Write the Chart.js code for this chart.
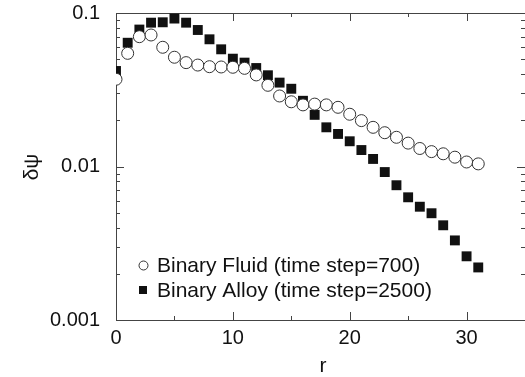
<!DOCTYPE html>
<html>
<head>
<meta charset="utf-8">
<script src="https://cdn.jsdelivr.net/npm/chart.js@4.4.1/dist/chart.umd.min.js"></script>
<style>
html,body{margin:0;padding:0;background:#fff;overflow:hidden;}
#wrap{width:532px;height:377px;}
</style>
</head>
<body>
<div id="wrap"><canvas id="c" width="532" height="377"></canvas></div>
<script>
const rValues = [0,1,2,3,4,5,6,7,8,9,10,11,12,13,14,15,16,17,18,19,20,21,22,23,24,25,26,27,28,29,30,31];
const fluidValues = [0.037,0.0546,0.0701,0.0719,0.0598,0.0515,0.0475,0.0458,0.0447,0.0445,0.0443,0.0436,0.0395,0.0338,0.0288,0.0264,0.0252,0.0255,0.0252,0.0243,0.0219,0.0199,0.018,0.0166,0.0155,0.0142,0.0131,0.0125,0.0121,0.0115,0.0107,0.0104];
const alloyValues = [0.0419,0.064,0.078,0.0865,0.087,0.092,0.0865,0.0775,0.0674,0.058,0.0504,0.0475,0.0438,0.0393,0.0352,0.0321,0.0268,0.0217,0.018,0.0163,0.0146,0.0128,0.0112,0.0092,0.00755,0.0063,0.00547,0.00496,0.00414,0.0033,0.0026,0.0022];
const seriesLabels = ['Binary Fluid (time step=700)','Binary Alloy (time step=2500)'];
const xTickLabels = [0,10,20,30];
const yTickLabels = [0.001,0.01,0.1];
const xTitle = 'r';
const yTitle = 'δψ';

const FONT = "'Liberation Sans', Arial, Helvetica, sans-serif";
const INK = '#111';

const framePlugin = {
  id: 'frame',
  beforeDatasetsDraw(chart) {
    const ctx = chart.ctx, a = chart.chartArea;
    const xs = chart.scales.x, ys = chart.scales.y;
    ctx.save();
    ctx.strokeStyle = '#444';
    ctx.lineWidth = 1;
    ctx.strokeRect(Math.round(a.left) + 0.5, Math.round(a.top) + 0.5, Math.round(a.right - a.left), Math.round(a.bottom - a.top));
    ctx.beginPath();
    for (let v = 0; v <= xs.max; v += 5) {
      const px = Math.round(xs.getPixelForValue(v)) + 0.5;
      const len = (v % 10 === 0) ? 8 : 4;
      ctx.moveTo(px, a.bottom); ctx.lineTo(px, a.bottom - len);
      ctx.moveTo(px, a.top); ctx.lineTo(px, a.top + len);
    }
    for (let e = -3; e <= -1; e++) {
      for (let m = 1; m <= 9; m++) {
        const v = m * Math.pow(10, e);
        if (v < ys.min * 0.999 || v > ys.max * 1.001) continue;
        const py = Math.round(ys.getPixelForValue(v)) + 0.5;
        const len = (m === 1) ? 8 : 4;
        ctx.moveTo(a.left, py); ctx.lineTo(a.left + len, py);
        ctx.moveTo(a.right, py); ctx.lineTo(a.right - len, py);
      }
    }
    ctx.stroke();
    ctx.restore();
  },
  afterDraw(chart) {
    const ctx = chart.ctx;
    ctx.save();
    ctx.fillStyle = INK;
    ctx.font = '21px ' + FONT;
    ctx.textAlign = 'center';
    ctx.textBaseline = 'middle';
    ctx.fillText(xTitle, 323, 366);
    ctx.translate(32, 167);
    ctx.rotate(-Math.PI / 2);
    ctx.font = '21px ' + FONT;
    ctx.fillText(yTitle, 0, 0);
    ctx.restore();
    ctx.save();
    ctx.font = '21px ' + FONT;
    ctx.textAlign = 'left';
    ctx.textBaseline = 'middle';
    ctx.fillStyle = INK;
    ctx.strokeStyle = '#333';
    ctx.lineWidth = 1;
    ctx.beginPath();
    ctx.arc(143.5, 265.5, 4.5, 0, Math.PI * 2);
    ctx.stroke();
    ctx.fillRect(139, 286, 8, 8);
    ctx.fillText(chart.data.datasets[0].label, 157, 266);
    ctx.fillText(chart.data.datasets[1].label, 157, 291);
    ctx.restore();
  }
};

new Chart(document.getElementById('c'), {
  type: 'line',
  data: {
    labels: rValues,
    datasets: [
      {
        label: seriesLabels[0],
        data: rValues.map((r, i) => ({x: r, y: fluidValues[i]})),
        showLine: false,
        pointStyle: 'circle',
        pointRadius: 6,
        pointBorderWidth: 1,
        pointBorderColor: '#333',
        pointBackgroundColor: '#fff'
      },
      {
        label: seriesLabels[1],
        data: rValues.map((r, i) => ({x: r, y: alloyValues[i]})),
        showLine: false,
        pointStyle: 'rect',
        pointRadius: 7,
        pointBorderWidth: 0,
        pointBorderColor: '#111',
        pointBackgroundColor: '#111'
      }
    ]
  },
  options: {
    responsive: false,
    animation: false,
    layout: {padding: {left: 0, top: 13, right: 0, bottom: 0}},
    plugins: {legend: {display: false}, tooltip: {enabled: false}},
    scales: {
      x: {
        type: 'linear',
        min: 0, max: 35,
        grid: {display: false, drawTicks: false},
        border: {display: false},
        afterFit: s => { s.height = 57; s.paddingLeft = 0; s.paddingRight = 0; },
        afterBuildTicks: s => { s.ticks = xTickLabels.map(v => ({value: v})); },
        ticks: {
          autoSkip: false, maxRotation: 0, padding: 6,
          color: INK, font: {family: FONT, size: 20},
          callback: v => String(v)
        }
      },
      y: {
        type: 'logarithmic',
        min: 0.001, max: 0.1,
        grid: {display: false, drawTicks: false},
        border: {display: false},
        afterFit: s => { s.width = 116; s.paddingTop = 0; s.paddingBottom = 0; },
        afterBuildTicks: s => { s.ticks = yTickLabels.map(v => ({value: v})); },
        ticks: {
          autoSkip: false, padding: 16,
          color: INK, font: {family: FONT, size: 20},
          callback: v => String(v)
        }
      }
    }
  },
  plugins: [framePlugin]
});
</script>
</body>
</html>
